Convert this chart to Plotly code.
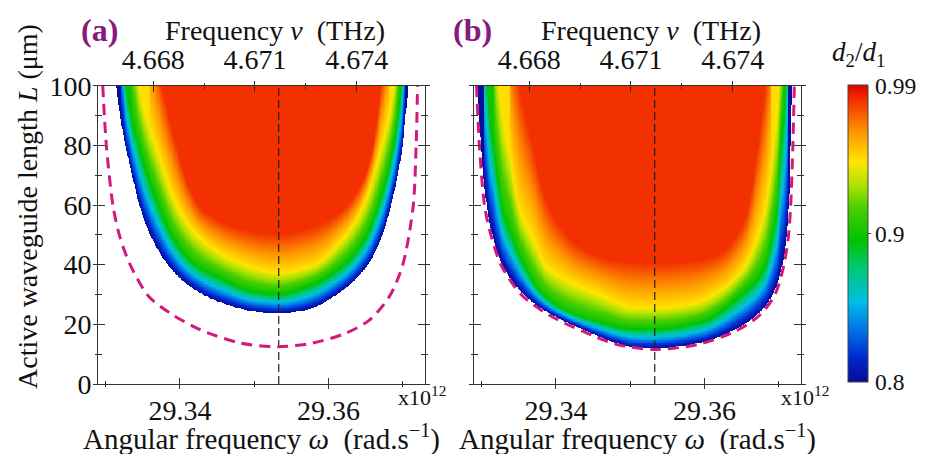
import numpy as np
import plotly.graph_objects as go

# ---------------- data ----------------
omega_range = [29.329, 29.373]          # angular frequency, x10^12 rad/s
nu_range = [4.666378, 4.676015]         # top axis, THz
L_range = [0, 100]                      # um
omega_ticks = [29.34, 29.36]
omega_tick_text = ["29.34", "29.36"]
omega_minor = [29.33, 29.35, 29.37]
nu_ticks = [4.668, 4.671, 4.674]
nu_tick_text = ["4.668", "4.671", "4.674"]
nu_minor = [4.6695, 4.6725]
L_ticks = [0, 20, 40, 60, 80, 100]
L_minor = [10, 30, 50, 70, 90]
cbar_ticks = [0.8, 0.9, 1.0]
cbar_labels = ["0.8", "0.9", "0.99"]
center_omega = 29.3533

levels = [0.80, 0.90, 0.95, 0.99]

# panel (a): iso-lines of d2/d1 (omega, L)
a_080_w = [29.3309, 29.3314, 29.3319, 29.3327, 29.3336, 29.3346, 29.3361, 29.3384, 29.3414, 29.3459, 29.3504,
           29.3533, 29.3569, 29.3614, 29.3653, 29.3672, 29.3684, 29.3693, 29.3700, 29.3704, 29.3708, 29.3713]
a_080_L = [125, 100, 90.7, 79.5, 69.5, 59.4, 49.4, 39.9, 32.6, 27.0, 24.2,
           23.7, 24.8, 30.4, 39.9, 49.4, 59.4, 69.5, 79.5, 90.0, 100, 125]
a_090_w = [29.3321, 29.3328, 29.3346, 29.3373, 29.3391, 29.3423, 29.3459, 29.3495, 29.3533, 29.3569, 29.3619,
           29.3650, 29.3666, 29.3687, 29.3698, 29.3703]
a_090_L = [125, 100, 79.5, 59.4, 49.4, 39.9, 35.3, 31.5, 30.4, 32.6, 39.9, 49.4, 59.4, 79.5, 100, 125]
a_095_w = [29.3336, 29.3346, 29.3369, 29.3398, 29.3427, 29.3468, 29.3533, 29.3578, 29.3621, 29.3646, 29.3671,
           29.3688, 29.3695]
a_095_L = [125, 100, 79.5, 59.4, 49.4, 42.5, 37.6, 39.9, 49.4, 59.4, 79.5, 100, 125]
a_099_w = [29.3360, 29.3376, 29.3396, 29.3411, 29.3427, 29.3448, 29.3475, 29.3502, 29.3533, 29.3563, 29.3592,
           29.3623, 29.3646, 29.3660, 29.3671, 29.3682]
a_099_L = [125, 100, 79.5, 67.0, 59.4, 55.5, 52.5, 50.8, 50.2, 51.5, 54.0, 59.4, 68.0, 79.5, 100, 125]

# panel (b): iso-lines of d2/d1 (omega, L)
b_080_w = [29.3293, 29.3295, 29.3299, 29.3307, 29.3315, 29.3328, 29.3355, 29.3391, 29.3437, 29.3482, 29.3510,
           29.3534, 29.3592, 29.3641, 29.3673, 29.3693, 29.3705, 29.3711, 29.3714, 29.3716, 29.3718, 29.3719]
b_080_L = [125, 100, 79.5, 59.4, 49.4, 39.9, 30.4, 23.7, 18.2, 13.7, 12.1,
           12.0, 13.7, 18.2, 23.7, 30.4, 39.9, 49.4, 59.4, 79.5, 100, 125]
b_090_w = [29.3303, 29.3308, 29.3317, 29.3328, 29.3342, 29.3358, 29.3378, 29.3414, 29.3459, 29.3504, 29.3534,
           29.3595, 29.3650, 29.3682, 29.3691, 29.3698, 29.3703, 29.3709, 29.3713]
b_090_L = [125, 100, 79.5, 59.4, 49.4, 39.9, 31.5, 24.8, 20.9, 18.7, 18.7, 21.0, 30.4, 39.9, 49.4, 59.4, 79.5,
           100, 125]
b_095_w = [29.3317, 29.3324, 29.3337, 29.3351, 29.3369, 29.3387, 29.3414, 29.3459, 29.3504, 29.3534, 29.3582,
           29.3614, 29.3655, 29.3671, 29.3682, 29.3693, 29.3700, 29.3706]
b_095_L = [125, 100, 79.5, 59.4, 49.4, 39.9, 35.3, 30.4, 26.0, 25.9, 27.0, 30.4, 39.9, 49.4, 59.4, 79.5, 100, 125]
b_099_w = [29.3338, 29.3351, 29.3369, 29.3385, 29.3400, 29.3430, 29.3480, 29.3534, 29.3590, 29.3625, 29.3645,
           29.3657, 29.3672, 29.3682, 29.3690]
b_099_L = [125, 100, 79.5, 63.0, 55.0, 46.5, 41.5, 40.5, 41.5, 44.5, 50.5, 57.0, 79.5, 100, 125]

# dashed magenta curves
a_pink_w = [29.3296, 29.3301, 29.3310, 29.3319, 29.3333, 29.3358, 29.3387, 29.3427, 29.3482, 29.3532, 29.3578,
            29.3623, 29.3655, 29.3682, 29.3700, 29.3714, 29.3718, 29.3720]
a_pink_L = [100, 79.5, 59.4, 49.4, 39.9, 29.3, 23.7, 18.2, 13.7, 12.5, 13.7, 17.0, 21.4, 29.3, 39.9, 59.4, 79.5, 100]
b_pink_w = [29.3293, 29.3297, 29.3304, 29.3313, 29.3326, 29.3353, 29.3390, 29.3436, 29.3481, 29.3534, 29.3592,
            29.3642, 29.3675, 29.3695, 29.3707, 29.3713, 29.3716, 29.3719, 29.3721]
b_pink_L = [100, 79.5, 59.4, 49.4, 39.9, 30.0, 23.2, 17.7, 13.3, 11.6, 13.3, 17.7, 23.2, 30.0, 39.9, 49.4, 59.4,
            79.5, 100]

# ---------------- styling / layout ----------------
PAGE_W, PAGE_H = 926, 462
BODY = 8                      # default page body margin around the figure
W, H = PAGE_W - 2 * BODY, PAGE_H - 2 * BODY   # keep the page free of scrollbars
FONT = "Liberation Serif, Times New Roman, serif"
AX = "#333333"
PINK = "#d4197c"
PURPLE = "#861a7d"

colorscale = [
    [0.00, "rgb(10,10,150)"],
    [0.08, "rgb(0,40,205)"],
    [0.17, "rgb(0,110,230)"],
    [0.27, "rgb(0,190,230)"],
    [0.38, "rgb(0,200,120)"],
    [0.48, "rgb(0,195,0)"],
    [0.58, "rgb(70,205,0)"],
    [0.66, "rgb(170,225,0)"],
    [0.74, "rgb(255,230,0)"],
    [0.84, "rgb(255,150,0)"],
    [0.95, "rgb(242,48,0)"],
    [1.00, "rgb(225,0,0)"],
]


def px(x):
    return (x - BODY) / W


def py(y):
    return 1 - (y - BODY) / H


dom_a = [px(98.3), px(425.0)]
dom_b = [px(474.3), px(801.0)]
dom_y = [py(384.0), py(85.7)]
CB_TOP, CB_BOT = 85.5, 382.0
CB_X = 848

omega_grid = np.linspace(omega_range[0], omega_range[1], 600)
L_grid = np.linspace(L_range[0], L_range[1], 401)


def pchip(x, y, xq):
    """Monotone cubic Hermite evaluation (no overshoot) of the read iso-line points."""
    x = np.asarray(x, float)
    y = np.asarray(y, float)
    h = np.diff(x)
    d = np.diff(y) / h
    m = np.zeros_like(y)
    m[0], m[-1] = d[0], d[-1]
    for k in range(1, len(x) - 1):
        if d[k - 1] * d[k] > 0:
            w1 = 2 * h[k] + h[k - 1]
            w2 = h[k] + 2 * h[k - 1]
            m[k] = (w1 + w2) / (w1 / d[k - 1] + w2 / d[k])
    out = np.full(np.shape(xq), 1e3)
    inside = (xq >= x[0]) & (xq <= x[-1])
    xi = xq[inside]
    idx = np.clip(np.searchsorted(x, xi) - 1, 0, len(x) - 2)
    t = (xi - x[idx]) / h[idx]
    h00 = 2 * t ** 3 - 3 * t ** 2 + 1
    h10 = t ** 3 - 2 * t ** 2 + t
    h01 = -2 * t ** 3 + 3 * t ** 2
    h11 = t ** 3 - t ** 2
    out[inside] = h00 * y[idx] + h10 * h[idx] * m[idx] + h01 * y[idx + 1] + h11 * h[idx] * m[idx + 1]
    return out


def build_field(curves):
    Lk = np.array([pchip(w, L, omega_grid) for w, L in curves])
    z = np.full((L_grid.size, omega_grid.size), np.nan)
    for j in range(omega_grid.size):
        xp = Lk[:, j].copy()
        for k in range(1, len(xp)):
            xp[k] = max(xp[k], xp[k - 1] + 1e-6)
        col = np.interp(L_grid, xp, levels)
        col[L_grid < xp[0]] = np.nan
        z[:, j] = col
    return z


z_a = build_field([(a_080_w, a_080_L), (a_090_w, a_090_L), (a_095_w, a_095_L), (a_099_w, a_099_L)])
z_b = build_field([(b_080_w, b_080_L), (b_090_w, b_090_L), (b_095_w, b_095_L), (b_099_w, b_099_L)])

fig = go.Figure()


def add_panel(z, pink_w, pink_L, xa, ya):
    fig.add_trace(go.Heatmap(x=omega_grid, y=L_grid, z=z, coloraxis="coloraxis", hoverinfo="skip",
                             xaxis=xa, yaxis=ya))
    fig.add_trace(go.Scatter(x=[center_omega, center_omega], y=L_range, mode="lines",
                             line=dict(color="#222222", width=1.2, dash="8px,4px"),
                             hoverinfo="skip", showlegend=False, xaxis=xa, yaxis=ya))
    fig.add_trace(go.Scatter(x=pink_w, y=pink_L, mode="lines",
                             line=dict(color=PINK, width=3, dash="11px,7px", shape="spline", smoothing=0.8),
                             hoverinfo="skip", showlegend=False, xaxis=xa, yaxis=ya))


add_panel(z_a, a_pink_w, a_pink_L, "x", "y")
add_panel(z_b, b_pink_w, b_pink_L, "x3", "y2")

# invisible helpers so every overlay axis owns a trace
for xa, ya, xv in [("x2", "y", nu_ticks[1]), ("x5", "y3", omega_ticks[0]), ("x6", "y3", nu_ticks[1]),
                   ("x4", "y2", nu_ticks[1]), ("x7", "y4", omega_ticks[0]), ("x8", "y4", nu_ticks[1])]:
    fig.add_trace(go.Scatter(x=[xv], y=[50], mode="markers", marker=dict(opacity=0, size=1),
                             hoverinfo="skip", showlegend=False, xaxis=xa, yaxis=ya))

tickfont = dict(family=FONT, size=28, color="#111111")
common = dict(showgrid=False, zeroline=False, fixedrange=True, tickcolor=AX, tickwidth=1.2, tickfont=tickfont)


def minor(kind, vals, ln):
    return dict(tickmode="array", tickvals=vals, ticks=kind, ticklen=ln, tickcolor=AX, tickwidth=1.2, showgrid=False)


def omega_axes(domain, anchor, main_name):
    out_ax = dict(domain=domain, anchor=anchor, range=omega_range, tickmode="array", tickvals=omega_ticks,
                  ticktext=omega_tick_text, ticks="outside", ticklen=4, minor=minor("outside", omega_minor, 2),
                  ticklabelstandoff=-3,
                  showline=True, linecolor=AX, linewidth=1.3, **common)
    in_ax = dict(overlaying=main_name, anchor=anchor, side="bottom", range=omega_range, tickmode="array",
                 tickvals=omega_ticks, ticks="inside", ticklen=6, minor=minor("inside", omega_minor, 3),
                 showticklabels=False, showline=False, **common)
    return out_ax, in_ax


def nu_axes(anchor, main_name):
    out_ax = dict(overlaying=main_name, anchor=anchor, side="top", range=nu_range, tickmode="array",
                  tickvals=nu_ticks, ticktext=nu_tick_text, ticks="outside", ticklen=4,
                  minor=minor("outside", nu_minor, 2), showline=True, linecolor=AX, linewidth=1.3, **common)
    in_ax = dict(overlaying=main_name, anchor=anchor, side="top", range=nu_range, tickmode="array",
                 tickvals=nu_ticks, ticks="inside", ticklen=6, minor=minor("inside", nu_minor, 3),
                 showticklabels=False, showline=False, **common)
    return out_ax, in_ax


def L_axes(anchor, main_name, labels):
    out_ax = dict(domain=dom_y, anchor=anchor, range=L_range, tickmode="array", tickvals=L_ticks,
                  ticks="outside", ticklen=4, mirror="ticks", minor=minor("outside", L_minor, 2),
                  ticklabelstandoff=-4,
                  showline=True, linecolor=AX, linewidth=1.3, showticklabels=labels, **common)
    in_ax = dict(overlaying=main_name, anchor=anchor, range=L_range, tickmode="array", tickvals=L_ticks,
                 ticks="inside", ticklen=7, mirror="ticks", minor=minor("inside", L_minor, 4),
                 showticklabels=False, showline=False, **common)
    return out_ax, in_ax


xa_out, xa_in = omega_axes(dom_a, "y", "x")
xb_out, xb_in = omega_axes(dom_b, "y2", "x3")
na_out, na_in = nu_axes("y", "x")
nb_out, nb_in = nu_axes("y2", "x3")
ya_out, ya_in = L_axes("x", "y", True)
yb_out, yb_in = L_axes("x3", "y2", False)


def ann(text, x, y, size=28, color="#111111", angle=0, bold=False, xanchor="center"):
    return dict(text=("<b>%s</b>" % text) if bold else text, x=px(x), y=py(y), xref="paper", yref="paper",
                xanchor=xanchor, yanchor="middle", showarrow=False, textangle=angle,
                font=dict(family=FONT, size=size, color=color))


annotations = [
    ann("(a)", 99, 30, size=32, color=PURPLE, bold=True),
    ann("(b)", 473, 30, size=32, color=PURPLE, bold=True),
    ann("Frequency\u00a0<i>ν</i>\u00a0\u00a0(THz)", 275, 30, size=28),
    ann("Frequency\u00a0<i>ν</i>\u00a0\u00a0(THz)", 651, 30, size=28),
    ann("Angular frequency <i>ω</i>\u00a0\u00a0(rad.s<sup>−1</sup>)", 261, 437, size=29),
    ann("Angular frequency <i>ω</i>\u00a0\u00a0(rad.s<sup>−1</sup>)", 637, 437, size=29),
    ann("x10<sup>12</sup>", 422, 396, size=22),
    ann("x10<sup>12</sup>", 805, 396, size=22),
    ann("Active waveguide length <i>L</i> (μm)", 27, 207, size=28, angle=-90),
    ann("<i>d</i><sub>2</sub>/<i>d</i><sub>1</sub>", 858, 54, size=27),
]
# colour-bar labels placed beside the bar (value -> vertical position on the bar)
for v, t in zip(cbar_ticks, cbar_labels):
    ycb = CB_BOT - (v - 0.8) / (1.0 - 0.8) * (CB_BOT - CB_TOP)
    annotations.append(ann(t, CB_X + 25, ycb, size=23.5, xanchor="left"))

fig.update_layout(
    width=W, height=H,
    margin=dict(l=0, r=0, t=0, b=0, autoexpand=False),
    paper_bgcolor="white", plot_bgcolor="white",
    showlegend=False,
    font=dict(family=FONT, size=28, color="#111111"),
    xaxis=xa_out, xaxis5=xa_in, xaxis2=na_out, xaxis6=na_in,
    xaxis3=xb_out, xaxis7=xb_in, xaxis4=nb_out, xaxis8=nb_in,
    yaxis=ya_out, yaxis3=ya_in, yaxis2=yb_out, yaxis4=yb_in,
    coloraxis=dict(
        colorscale=colorscale, cmin=0.8, cmax=1.0,
        colorbar=dict(x=px(CB_X), xanchor="left", y=py((CB_TOP + CB_BOT) / 2), yanchor="middle",
                      len=(CB_BOT - CB_TOP) / H, lenmode="fraction", thickness=20, thicknessmode="pixels",
                      xpad=0, ypad=0, outlinewidth=1, outlinecolor="#444444",
                      tickmode="array", tickvals=[0.9], ticks="outside", ticklen=3, tickcolor="#444444",
                      showticklabels=False),
    ),
    annotations=annotations,
)

fig.write_html("out.html")
